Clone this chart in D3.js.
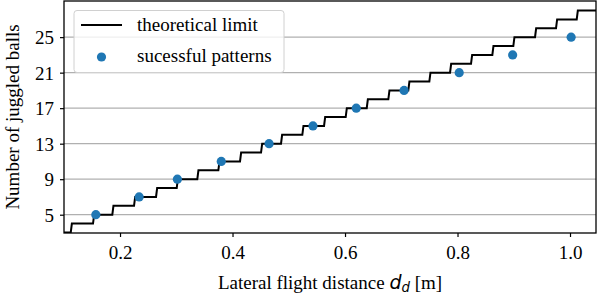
<!DOCTYPE html>
<html>
<head>
<meta charset="utf-8">
<script src="https://cdn.jsdelivr.net/npm/d3@7"></script>
<style>
  body { margin: 0; background: #fff; }
  svg text { font-family: "Liberation Serif", "DejaVu Serif", serif; }
  svg text .math { font-family: "DejaVu Sans", sans-serif; font-style: italic; }
</style>
</head>
<body>
<div id="chart"></div>
<script>
// values
var stepX = [0.1124, 0.152, 0.1863, 0.2249, 0.264, 0.3008, 0.3374, 0.3748, 0.4133, 0.4507,
             0.4862, 0.5241, 0.5627, 0.6012, 0.6386, 0.677, 0.7125, 0.7499, 0.7867, 0.824,
             0.8619, 0.8992, 0.9378, 0.9751, 1.0119];
var stepBalls = [4, 5, 6, 7, 8, 9, 10, 11, 12, 13, 14, 15, 16, 17, 18, 19, 20, 21, 22, 23,
                 24, 25, 26, 27, 28];
var startBalls = 3;

var patternX = [0.157, 0.234, 0.302, 0.380, 0.465, 0.543, 0.620, 0.705, 0.803, 0.898, 1.002];
var patternBalls = [5, 7, 9, 11, 13, 15, 17, 19, 21, 23, 25];

var xTicks = [0.2, 0.4, 0.6, 0.8, 1.0];
var yTicks = [5, 9, 13, 17, 21, 25];

var W = 598, H = 299;
var m = {left: 64, right: 2, top: 1, bottom: 66};
var fs = 19;
var serif = '"Liberation Serif", "DejaVu Serif", serif';

var x = d3.scaleLinear().domain([0.1004, 1.0462]).range([m.left, W - m.right]);
var y = d3.scaleLinear().domain([2.94, 29.07]).range([H - m.bottom, m.top]);

var svg = d3.select('#chart').append('svg')
    .attr('width', W)
    .attr('height', H)
    .attr('xmlns', 'http://www.w3.org/2000/svg');

svg.append('clipPath').attr('id', 'plotclip')
  .append('rect')
    .attr('x', x.range()[0]).attr('y', y.range()[1])
    .attr('width', x.range()[1] - x.range()[0])
    .attr('height', y.range()[0] - y.range()[1]);

// horizontal grid
svg.append('g').selectAll('line')
    .data(yTicks).enter().append('line')
    .attr('x1', x.range()[0]).attr('x2', x.range()[1])
    .attr('y1', d => y(d)).attr('y2', d => y(d))
    .attr('stroke', '#b0b0b0')
    .attr('stroke-width', 1.2);

// step line (sampled, so risers lean a bit)
var slant = 0.002;
var pts = [[x.domain()[0], startBalls]];
stepX.forEach((sx, i) => {
    pts.push([sx, stepBalls[i] - 1]);
    pts.push([sx + slant, stepBalls[i]]);
});
pts.push([x.domain()[1], stepBalls[stepBalls.length - 1]]);

var line = d3.line().x(d => x(d[0])).y(d => y(d[1]));

svg.append('g').attr('clip-path', 'url(#plotclip)')
  .append('path')
    .attr('d', line(pts))
    .attr('fill', 'none')
    .attr('stroke', '#000')
    .attr('stroke-width', 2)
    .attr('stroke-linejoin', 'miter');

svg.append('g').attr('clip-path', 'url(#plotclip)')
  .selectAll('circle')
    .data(patternX).enter().append('circle')
    .attr('cx', d => x(d))
    .attr('cy', (d, i) => y(patternBalls[i]))
    .attr('r', 4.6)
    .attr('fill', '#1f77b4');

// axes
var xAxis = svg.append('g')
    .attr('transform', `translate(0,${y.range()[0]})`)
    .call(d3.axisBottom(x).tickValues(xTicks).tickFormat(d3.format('.1f')).tickSizeOuter(0).tickSize(4).tickPadding(6));
var yAxis = svg.append('g')
    .attr('transform', `translate(${x.range()[0]},0)`)
    .call(d3.axisLeft(y).tickValues(yTicks).tickFormat(d3.format('d')).tickSizeOuter(0).tickSize(4).tickPadding(6));

[xAxis, yAxis].forEach(a => {
    a.attr('font-family', serif).attr('font-size', fs);
    a.select('.domain').remove();
    a.selectAll('.tick line').attr('stroke', '#000').attr('stroke-width', 1.2);
    a.selectAll('.tick text')
        .style('font-family', serif)
        .style('font-size', fs + 'px')
        .attr('fill', '#000');
});
xAxis.selectAll('.tick text').attr('dy', '0.82em');
yAxis.selectAll('.tick text').attr('dy', '0.34em');

// frame
svg.append('rect')
    .attr('x', x.range()[0]).attr('y', y.range()[1])
    .attr('width', x.range()[1] - x.range()[0])
    .attr('height', y.range()[0] - y.range()[1])
    .attr('fill', 'none')
    .attr('stroke', '#000')
    .attr('stroke-width', 1.3);

// axis labels
var xl = svg.append('text')
    .attr('x', (x.range()[0] + x.range()[1]) / 2)
    .attr('y', 289)
    .attr('text-anchor', 'middle')
    .style('font-size', fs + 'px');
xl.append('tspan').text('Lateral flight distance ');
xl.append('tspan').attr('class', 'math').text('d');
xl.append('tspan').attr('class', 'math')
    .style('font-size', (fs * 0.7) + 'px').attr('dy', 3).text('d');
xl.append('tspan').attr('dy', -3).text(' [m]');

svg.append('text')
    .attr('transform', `translate(19,${(y.range()[0] + y.range()[1]) / 2}) rotate(-90)`)
    .attr('text-anchor', 'middle')
    .style('font-size', fs + 'px')
    .text('Number of juggled balls');

// legend
var lg = svg.append('g');
lg.append('rect')
    .attr('x', 74).attr('y', 10.5)
    .attr('width', 210).attr('height', 62)
    .attr('rx', 3)
    .attr('fill', '#fff').attr('fill-opacity', 0.8)
    .attr('stroke', '#d0d0d0').attr('stroke-width', 1);
lg.append('line')
    .attr('x1', 81).attr('x2', 122).attr('y1', 25).attr('y2', 25)
    .attr('stroke', '#000').attr('stroke-width', 2);
lg.append('text').attr('x', 137).attr('y', 31).style('font-size', fs + 'px').text('theoretical limit');
lg.append('circle').attr('cx', 101.5).attr('cy', 57).attr('r', 4.6).attr('fill', '#1f77b4');
lg.append('text').attr('x', 137).attr('y', 62).style('font-size', fs + 'px').text('sucessful patterns');
</script>
</body>
</html>
